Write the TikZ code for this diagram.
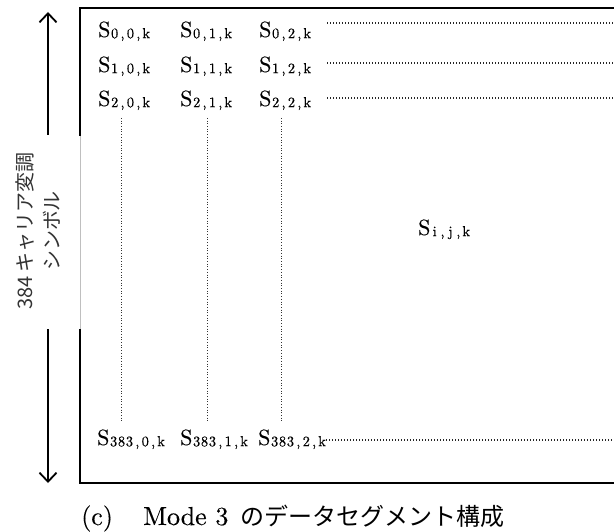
\documentclass[tikz,border=0pt]{standalone}
\usepackage{fontspec}
\setmainfont{lmroman10-regular}[Extension=.otf, FakeBold=0.25]
\newfontfamily\jp{Noto Sans CJK JP}
\usetikzlibrary{arrows.meta}
\def\monochars#1{\ifx\relax#1\else\makebox[7.9pt]{#1}\expandafter\monochars\fi}
\newcommand\Sx[1]{{\fontsize{22}{22}\selectfont S}\kern0.3pt\raisebox{-1.2pt}{\fontsize{14.5}{14.5}\selectfont\monochars#1\relax}}
\tikzset{
  frame/.style={line width=1.8pt, black},
  gapline/.style={line width=0.7pt, black!25},
  dotline/.style={line width=1.1pt, dash pattern=on 1.1pt off 1.9pt, black!85},
  vdot/.style={line width=0.9pt, dash pattern=on 0.9pt off 1.8pt, black!80},
  arr/.style={line width=1.8pt, -{Straight Barb[length=9pt,width=17pt]}},
  cell/.style={anchor=base west, inner sep=0pt},
}
\begin{document}
\begin{tikzpicture}[x=1pt, y=-1pt]
\clip (0,0) rectangle (614,532);
\fill[white] (0,0) rectangle (614,532);
% frame
\draw[frame] (620,8) -- (80,8) -- (80,136);
\draw[frame] (80,329) -- (80,483) -- (620,483);
\draw[gapline] (80,136) -- (80,329);
% arrows
\coordinate (atop) at (48,12);
\coordinate (abot) at (48,483);
\coordinate (a1) at (48,135);
\coordinate (a2) at (48,329);
\draw[arr] (a1) -- (atop);
\draw[arr] (a2) -- (abot);
% label
\node[rotate=90, align=center, inner sep=0pt, text=black!80, font=\jp\fontsize{20}{27}\selectfont] (lab) at (38.5,231) {384 キャリア変調\\シンボル};
% cells
\node[cell] (s00) at (98,37) {\Sx{0,0,k}};
\node[cell] (s01) at (180,37) {\Sx{0,1,k}};
\node[cell] (s02) at (259,37) {\Sx{0,2,k}};
\node[cell] (s10) at (98,72) {\Sx{1,0,k}};
\node[cell] (s11) at (180,72) {\Sx{1,1,k}};
\node[cell] (s12) at (259,72) {\Sx{1,2,k}};
\node[cell] (s20) at (98,106) {\Sx{2,0,k}};
\node[cell] (s21) at (180,106) {\Sx{2,1,k}};
\node[cell] (s22) at (259,106) {\Sx{2,2,k}};
\node[cell] (b0) at (97,445) {\Sx{383,0,k}};
\node[cell] (b1) at (180,445) {\Sx{383,1,k}};
\node[cell] (b2) at (258,445) {\Sx{383,2,k}};
\node[cell] (sijk) at (418,235) {\Sx{i,j,k}};
% dotted rows
\draw[dotline] (327,23) -- (614,23);
\draw[dotline] (327,63) -- (614,63);
\draw[dotline] (327,98) -- (614,98);
\draw[dotline] (b2.east |- 0,440) -- (614,440);
% dotted columns
\draw[vdot] (121,118) -- (121,421);
\draw[vdot] (207,118) -- (207,421);
\draw[vdot] (281,118) -- (281,421);
% caption
\node[anchor=base west, inner sep=0pt, font=\fontsize{26}{26}\selectfont] (cap) at (81,525)
  {\makebox[62pt][l]{(c)}\makebox[97pt][l]{Mode 3}{\jp\fontsize{24}{24}\selectfont のデータセグメント構成}};
\end{tikzpicture}
\end{document}
